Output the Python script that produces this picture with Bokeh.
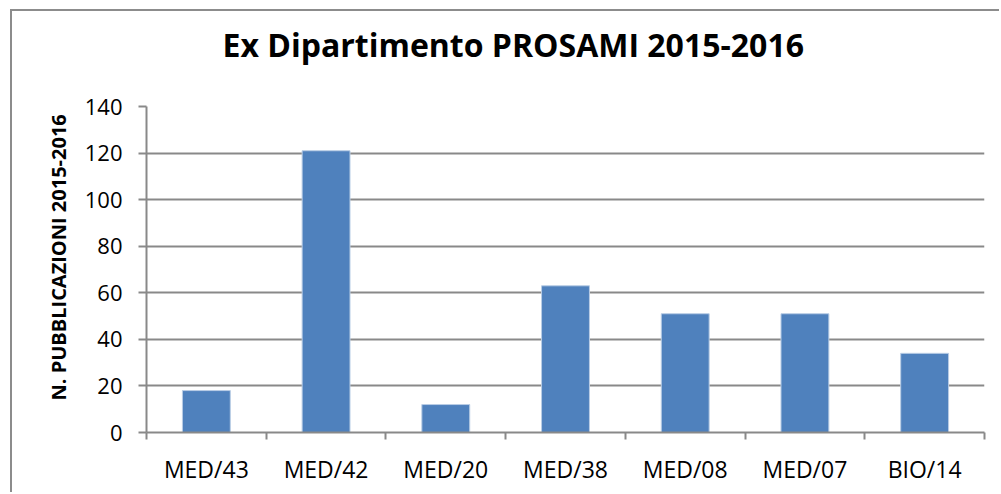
from bokeh.plotting import figure
from bokeh.models import Range1d, FixedTicker, ColumnDataSource, Title
from bokeh.embed import file_html
from bokeh.resources import INLINE

categories = ["MED/43", "MED/42", "MED/20", "MED/38", "MED/08", "MED/07", "BIO/14"]
values = [18, 121, 12, 63, 51, 51, 34]
y_ticks = [0, 20, 40, 60, 80, 100, 120, 140]
title_text = "Ex Dipartimento PROSAMI 2015-2016"
y_label_text = "N. PUBBLICAZIONI 2015-2016"

FONT = "Open Sans"
GRID = "#898989"
W, H = 989, 483

xs = list(range(len(categories)))
src = ColumnDataSource(dict(x=xs, top=values, cat=categories))

p = figure(width=W, height=H, output_backend="svg", toolbar_location=None, title=None,
           x_range=Range1d(-0.5, len(categories) - 0.5), y_range=Range1d(0, 140),
           min_border_left=134, min_border_right=17, min_border_top=95, min_border_bottom=62)
p.styles = {"border-left": "2px solid #8c8c8c", "border-top": "2px solid #8c8c8c",
            "margin-top": "9px", "margin-left": "10px"}

# spacer between frame and chart title
p.add_layout(Title(text=" ", text_font=FONT, text_font_size="10px", standoff=25), "above")
# chart title
p.add_layout(Title(text=title_text, align="left", offset=76, standoff=0,
                   text_font=FONT, text_font_size="32px", text_font_style="bold",
                   text_color="#000000"), "above")

p.vbar(x="x", top="top", width=0.4, source=src, fill_color="#4F81BD", line_color="#B9CDE5", line_width=1)

p.outline_line_color = None
p.background_fill_color = "white"
p.border_fill_color = "white"

p.xgrid.visible = False
p.ygrid.ticker = FixedTicker(ticks=y_ticks)
p.ygrid.grid_line_color = GRID
p.ygrid.grid_line_width = 2

xa = p.xaxis[0]
xa.ticker = FixedTicker(ticks=xs, minor_ticks=[i - 0.5 for i in range(len(categories) + 1)])
xa.major_label_overrides = {i: c for i, c in enumerate(categories)}
xa.major_tick_line_color = None
xa.minor_tick_line_color = GRID
xa.minor_tick_line_width = 2
xa.minor_tick_out = 7
xa.minor_tick_in = 0
xa.axis_line_color = GRID
xa.axis_line_width = 2
xa.major_label_text_font = FONT
xa.major_label_text_font_size = "23px"
xa.major_label_text_color = "#000000"
xa.major_label_standoff = 13

ya = p.yaxis[0]
ya.ticker = FixedTicker(ticks=y_ticks)
ya.minor_tick_line_color = None
ya.major_tick_line_color = GRID
ya.major_tick_line_width = 2
ya.major_tick_out = 8
ya.major_tick_in = 0
ya.axis_line_color = GRID
ya.axis_line_width = 2
ya.major_label_text_font = FONT
ya.major_label_text_font_size = "22px"
ya.major_label_text_color = "#000000"
ya.major_label_standoff = 16

ytitle = Title(text=y_label_text, align="left", offset=32, standoff=19,
               text_font=FONT, text_font_size="20px", text_font_style="bold", text_color="#000000")
p.add_layout(ytitle, "left")

open("out.html", "w").write(file_html(p, INLINE))
